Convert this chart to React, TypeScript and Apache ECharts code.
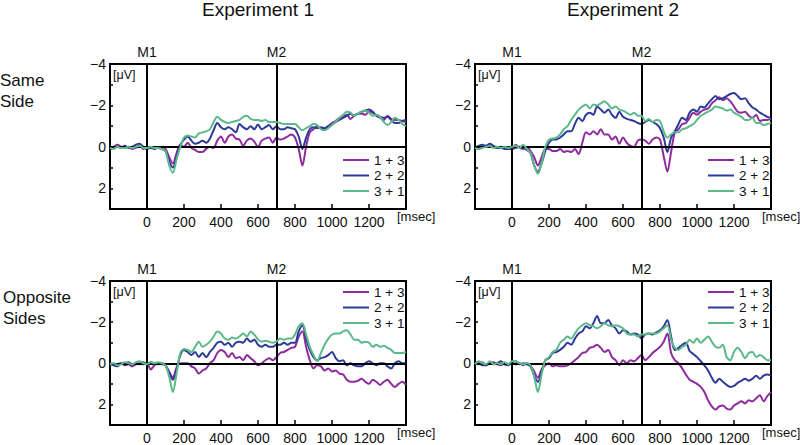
import React, { useEffect, useRef } from "react";
import * as echarts from "echarts";

// time axis in msec (sample points)
const times = [
  -200, -180, -160, -140, -120, -100, -80, -60, -40, -20,
  0, 20, 40, 60, 80, 100, 120, 140, 160, 180,
  200, 220, 240, 260, 280, 300, 320, 340, 360, 380,
  400, 420, 440, 460, 480, 500, 520, 540, 560, 580,
  600, 620, 640, 660, 680, 700, 720, 740, 760, 780,
  800, 820, 840, 860, 880, 900, 920, 940, 960, 980,
  1000, 1020, 1040, 1060, 1080, 1100, 1120, 1140, 1160, 1180,
  1200, 1220, 1240, 1260, 1280, 1300, 1320, 1340, 1360, 1380,
  1400,
];

const conditions = ["1 + 3", "2 + 2", "3 + 1"];
const experiments = ["Experiment 1", "Experiment 2"];
const rowLabels = ["Same\nSide", "Opposite\nSides"];
const markerTimes = [0, 700];
const markerLabels = ["M1", "M2"];

// Experiment 1, Same Side
const e1SamePurple = [
  0.1, 0.0, -0.1, 0.0, 0.05, 0.0, 0.1, 0.05, -0.05, 0.1,
  0.05, 0.05, 0.0, 0.05, 0.0, 0.1, 0.5, 0.8, 0.3, -0.1,
  0.0, -0.2, 0.05, 0.15, 0.25, 0.25, 0.1, 0.0, 0.05, -0.3,
  -0.5, -0.2, -0.5, -0.6, -0.4, -0.35, -0.05, -0.3, -0.4, -0.25,
  0.0, -0.3, -0.4, -0.45, -0.2, -0.45, -0.35, -0.4, -0.5, -0.6,
  -0.45, 0.1, 0.9, 0.0, -0.7, -0.85, -1.0, -0.9, -0.85, -1.0,
  -1.15, -1.25, -1.4, -1.45, -1.55, -1.35, -1.5, -1.6, -1.6, -1.55,
  -1.7, -1.65, -1.5, -1.4, -1.3, -1.5, -1.35, -1.3, -1.3, -1.25,
  -1.2,
];
const e1SameBlue = [
  0.1, 0.05, 0.0, 0.05, -0.05, 0.05, 0.0, -0.1, -0.15, 0.0,
  0.1, 0.05, 0.1, 0.05, 0.1, 0.2, 0.7, 1.0, 0.5, -0.1,
  -0.35, -0.5, -0.3, -0.15, -0.2, -0.3, -0.2, -0.4, -0.8, -1.15,
  -0.95, -0.85, -0.95, -0.85, -0.7, -1.1, -0.95, -0.85, -1.0, -0.85,
  -1.08, -0.85, -0.95, -1.05, -0.85, -1.0, -0.85, -0.85, -0.95, -0.9,
  -0.85, -0.5, 0.1, -0.45, -0.85, -0.95, -0.9, -0.95, -0.9, -1.0,
  -1.1, -1.2, -1.3, -1.4, -1.5, -1.6, -1.5, -1.6, -1.7, -1.75,
  -1.8, -1.7, -1.5, -1.45, -1.4, -1.45, -1.3, -1.15, -1.15, -1.25,
  -1.3,
];
const e1SameGreen = [
  0.05, 0.1, 0.0, 0.05, 0.05, 0.0, 0.05, 0.0, -0.05, 0.05,
  0.05, 0.0, 0.05, 0.05, 0.1, 0.2, 0.9, 1.25, 0.6, 0.0,
  -0.45, -0.55, -0.5, -0.45, -0.65, -0.7, -0.75, -0.85, -1.2, -1.45,
  -1.3, -1.2, -1.15, -1.2, -1.25, -1.3, -1.45, -1.5, -1.35, -1.3,
  -1.3, -1.25, -1.3, -1.2, -1.2, -1.2, -1.15, -1.1, -1.1, -1.1,
  -1.1, -0.95, -0.8, -0.9, -1.0, -1.1, -1.05, -0.85, -0.8, -0.9,
  -1.05, -1.2, -1.4, -1.55, -1.7, -1.65, -1.5, -1.6, -1.7, -1.75,
  -1.65, -1.5, -1.55, -1.45, -1.2, -1.05, -1.2, -1.4, -1.3, -1.1,
  -1.0,
];

// Experiment 2, Same Side
const e2SamePurple = [
  0.05, 0.1, 0.0, -0.05, -0.1, 0.0, 0.05, 0.0, 0.05, 0.05,
  0.1, -0.1, 0.05, 0.1, 0.0, 0.2, 0.5, 0.9, 0.5, 0.1,
  0.1, 0.2, 0.2, 0.1, 0.25, 0.2, 0.25, 0.1, 0.35, -0.2,
  -0.7, -0.6, -0.75, -0.6, -0.85, -0.6, -0.6, -0.35, -0.5, -0.15,
  -0.45, -0.2, -0.05, 0.0, -0.3, -0.35, -0.3, -0.15, -0.35, -0.45,
  -0.35, 0.45, 1.2, 0.25, -0.7, -0.85, -1.1, -1.15, -1.4, -1.65,
  -1.55, -1.7, -1.8, -1.85, -2.1, -2.25, -2.4, -2.25, -2.35, -2.2,
  -1.95, -1.7, -1.65, -1.7, -1.5, -1.4, -1.55, -1.25, -1.3, -1.3,
  -1.35,
];
const e2SameBlue = [
  0.05, -0.05, -0.1, -0.05, -0.15, -0.05, 0.05, 0.05, 0.1, 0.1,
  0.1, 0.05, 0.0, 0.05, 0.15, 0.3, 0.9, 1.2, 0.8, 0.2,
  -0.2, -0.35, -0.35, -0.45, -0.6, -0.75, -0.75, -1.1, -1.4, -1.25,
  -1.55, -1.65, -1.55, -1.95, -1.8, -1.65, -1.8, -1.55, -1.4, -1.7,
  -1.45, -1.35, -1.3, -1.25, -1.15, -1.1, -1.2, -1.3, -1.2, -1.1,
  -0.9, -0.45, 0.25, -0.45, -0.75, -1.1, -1.4, -1.3, -1.65, -1.8,
  -1.7, -1.95, -1.9, -2.1, -2.3, -2.45, -2.3, -2.35, -2.45, -2.55,
  -2.6, -2.45, -2.3, -2.35, -2.1, -1.9, -1.8, -1.65, -1.55, -1.45,
  -1.4,
];
const e2SameGreen = [
  0.05, 0.1, 0.05, 0.0, -0.05, 0.05, 0.0, 0.05, 0.0, 0.05,
  0.0, -0.05, 0.05, -0.1, 0.1, 0.3, 0.9, 1.3, 0.8, 0.0,
  -0.35, -0.4, -0.45, -0.6, -0.85, -1.0, -1.3, -1.55, -1.8, -1.95,
  -2.05, -1.85, -2.05, -2.0, -2.1, -2.2, -2.05, -1.85, -1.95, -1.8,
  -1.75, -1.65, -1.55, -1.65, -1.5, -1.5, -1.25, -1.35, -1.2, -1.3,
  -1.25, -0.75, -0.45, -0.6, -0.7, -0.7, -0.85, -0.9, -1.0, -1.1,
  -1.3, -1.5, -1.6, -1.7, -1.8, -1.95, -1.9, -1.85, -1.75, -1.8,
  -1.65, -1.55, -1.45, -1.3, -1.3, -1.4, -1.15, -1.15, -1.05, -1.1,
  -1.15,
];

// Experiment 1, Opposite Sides
const e1OppPurple = [
  0.0, 0.05, 0.05, 0.0, 0.1, 0.05, 0.15, 0.05, 0.0, 0.05,
  0.0, 0.3, 0.1, 0.0, 0.05, 0.1, 0.4, 0.7, 0.2, 0.0,
  0.0, 0.0, 0.15, 0.25, 0.5, 0.35, 0.25, 0.0, -0.15, -0.5,
  -0.65, -0.55, -0.3, -0.5, -0.25, -0.3, -0.15, -0.4, -0.25, -0.1,
  0.1, 0.0, -0.15, -0.25, -0.15, -0.3, -0.5, -0.55, -0.65, -0.75,
  -0.8, -1.3, -1.55, -0.8, -0.15, 0.25, 0.1, 0.15, 0.35, 0.25,
  0.4, 0.35, 0.5, 0.55, 0.8, 0.9, 0.9, 0.85, 0.75, 0.9,
  1.0, 0.8, 0.9, 1.05, 0.9, 0.8, 1.0, 1.15, 1.0, 0.9,
  1.05,
];
const e1OppBlue = [
  0.05, 0.1, 0.15, 0.0, 0.0, -0.05, 0.05, 0.0, 0.05, -0.05,
  0.05, -0.05, 0.0, 0.05, 0.0, 0.1, 0.5, 0.8, 0.3, -0.4,
  -0.65, -0.55, -0.4, -0.55, -0.3, -0.5, -0.3, -0.55, -0.75, -1.0,
  -1.05, -0.9, -1.0, -0.8, -1.0, -1.05, -1.0, -1.2, -1.05, -1.15,
  -0.9, -0.8, -0.9, -0.8, -0.8, -0.9, -0.9, -1.0, -0.9, -1.0,
  -1.0, -1.55, -1.85, -1.2, -0.65, -0.3, -0.15, -0.25, -0.3, -0.4,
  -0.55, -0.25, -0.1, -0.15, 0.1, 0.0, 0.1, 0.15, 0.15, 0.0,
  -0.1, 0.0, 0.1, 0.0, 0.0, 0.15, 0.25, 0.0, -0.1, 0.0,
  0.0,
];
const e1OppGreen = [
  0.05, 0.0, 0.1, 0.05, -0.05, 0.0, 0.05, -0.05, -0.1, 0.0,
  0.05, -0.05, 0.0, -0.05, 0.0, 0.1, 0.65, 1.4, 0.5, -0.5,
  -0.7, -0.65, -0.55, -0.8, -1.05, -0.8, -0.9, -1.05, -1.3, -1.55,
  -1.45, -1.2, -1.15, -1.25, -1.2, -1.3, -1.45, -1.3, -1.55, -1.4,
  -1.15, -1.05, -1.1, -1.05, -1.0, -1.05, -1.2, -1.15, -1.2, -1.2,
  -1.4, -1.8, -1.95, -1.4, -0.8, -0.4, -0.1, -0.5, -0.9, -1.2,
  -1.4, -1.45, -1.45, -1.55, -1.6, -1.4, -1.15, -1.15, -1.0, -1.05,
  -1.0, -0.8, -0.9, -0.8, -0.85, -0.75, -0.65, -0.5, -0.5, -0.5,
  -0.55,
];

// Experiment 2, Opposite Sides
const e2OppPurple = [
  0.0, 0.05, -0.05, 0.1, 0.0, -0.05, 0.05, 0.1, 0.0, 0.05,
  0.0, 0.05, 0.0, 0.1, 0.0, 0.1, 0.4, 0.7, 0.3, 0.1,
  0.0, 0.15, 0.1, 0.15, 0.15, 0.1, 0.0, -0.15, -0.3, -0.5,
  -0.55, -0.75, -0.8, -0.9, -0.75, -0.55, -0.65, -0.3, -0.15, 0.1,
  -0.15, 0.0, -0.15, -0.1, -0.25, -0.4, -0.15, -0.3, -0.5, -0.65,
  -0.8, -1.05, -1.45, -0.5, -0.15, 0.0, 0.25, 0.55, 0.8, 0.9,
  1.0, 1.15, 1.4, 1.8, 2.1, 2.25, 2.1, 2.05, 2.2, 2.25,
  2.05, 1.95, 1.85, 1.95, 1.8, 1.85, 1.7, 1.55, 1.85, 1.6,
  1.4,
];
const e2OppBlue = [
  0.05, -0.05, 0.1, 0.1, -0.05, 0.05, 0.0, -0.1, 0.05, 0.1,
  -0.05, -0.1, 0.05, 0.0, 0.05, 0.15, 0.6, 0.9, 0.4, -0.15,
  -0.25, -0.5, -0.55, -0.65, -0.8, -1.0, -0.9, -1.2, -1.45, -1.55,
  -1.8, -1.7, -1.95, -2.3, -1.95, -1.95, -2.1, -1.85, -1.7, -1.45,
  -1.6, -1.55, -1.4, -1.45, -1.4, -1.2, -1.4, -1.45, -1.4, -1.5,
  -1.6, -1.8, -2.1, -1.3, -0.65, -0.75, -0.9, -1.0, -0.6, -0.45,
  -0.3, -0.1, 0.1, 0.35, 0.7, 0.95, 0.75, 0.9, 1.05, 1.15,
  1.1, 0.95, 0.85, 0.75, 0.85, 0.75, 0.6, 0.75, 0.6, 0.55,
  0.6,
];
const e2OppGreen = [
  0.05, -0.1, 0.0, 0.05, -0.1, 0.05, 0.0, 0.05, -0.05, 0.05,
  -0.1, -0.1, 0.0, 0.05, 0.0, 0.1, 0.65, 1.4, 0.55, -0.15,
  -0.3, -0.55, -0.65, -1.0, -1.15, -1.3, -1.2, -1.45, -1.7, -1.85,
  -1.95, -1.85, -1.8, -1.7, -1.8, -1.95, -1.85, -1.8, -1.85, -1.8,
  -1.7, -1.45, -1.4, -1.4, -1.3, -1.4, -1.4, -1.45, -1.45, -1.45,
  -1.55, -1.7, -1.85, -1.15, -0.75, -0.65, -0.8, -0.9, -1.15, -1.0,
  -1.2, -1.0, -1.15, -1.3, -1.05, -0.8, -0.75, -0.9, -0.3, -0.15,
  -0.55, -0.75, -0.55, -0.25, -0.5, -0.55, -0.3, -0.4, -0.3, -0.15,
  -0.15,
];

const panelValues = [
  [e1SamePurple, e1SameBlue, e1SameGreen],
  [e2SamePurple, e2SameBlue, e2SameGreen],
  [e1OppPurple, e1OppBlue, e1OppGreen],
  [e2OppPurple, e2OppBlue, e2OppGreen],
];

// layout / style
const COLORS = ["#8E2C9D", "#2D3A98", "#5CB98A"];
const FONT = "'Liberation Sans', Arial, Helvetica, sans-serif";
const TEXT = "#111";
const GRID_W = 296;
const GRID_H = 145;
const gridPos = [
  { left: 110, top: 64 },
  { left: 475, top: 64 },
  { left: 110, top: 281 },
  { left: 475, top: 281 },
];
const legendBottomRow = [false, false, true, true];

const fmtY = (v: number) => {
  if (v % 2 !== 0 || v > 2) return "";
  return v < 0 ? "\u2212" + Math.abs(v) : String(v);
};
const fmtX = (v: number) => (v < 0 || v > 1200 ? "" : String(v));

export default function App() {
  const ref = useRef<HTMLDivElement>(null);
  useEffect(() => {
    if (!ref.current) return;
    const chart = echarts.init(ref.current, undefined, { renderer: "svg" });

    const grids = gridPos.map((g) => ({
      left: g.left,
      top: g.top,
      width: GRID_W,
      height: GRID_H,
      show: true,
      borderColor: "#000",
      borderWidth: 2,
      backgroundColor: "transparent",
    }));

    const xAxes = gridPos.map((_, i) => ({
      type: "value",
      gridIndex: i,
      min: -200,
      max: 1400,
      interval: 200,
      axisLine: { show: true, onZero: false, lineStyle: { color: "#000", width: 2 } },
      axisTick: { show: true, inside: true, length: 5, lineStyle: { color: "#000", width: 1.5 } },
      axisLabel: { formatter: fmtX, fontSize: 14, color: TEXT, margin: 6, fontFamily: FONT },
      splitLine: { show: false },
    }));

    const yAxes = gridPos.map((_, i) => ({
      type: "value",
      gridIndex: i,
      inverse: true,
      min: -4,
      max: 3,
      interval: 1,
      axisLine: { show: true, onZero: false, lineStyle: { color: "#000", width: 2 } },
      axisTick: { show: true, inside: true, length: 3, lineStyle: { color: "#000", width: 1.5 } },
      axisLabel: { formatter: fmtY, fontSize: 14, color: TEXT, margin: 4, fontFamily: FONT },
      splitLine: { show: false },
    }));

    const series: any[] = [];
    panelValues.forEach((vals, p) => {
      vals.forEach((arr, c) => {
        const s: any = {
          type: "line",
          name: conditions[c],
          xAxisIndex: p,
          yAxisIndex: p,
          data: times.map((t, k) => [t, arr[k]]),
          symbol: "none",
          showSymbol: false,
          smooth: 0.3,
          lineStyle: { color: COLORS[c], width: 2 },
          itemStyle: { color: COLORS[c] },
          z: 3 + c,
        };
        if (c === 0) {
          s.markLine = {
            silent: true,
            symbol: ["none", "none"],
            label: { show: false },
            lineStyle: { color: "#000", width: 2, type: "solid" },
            emphasis: { disabled: true },
            data: [
              ...markerTimes.map((t) => ({ xAxis: t })),
              { yAxis: 0 },
            ],
          };
        }
        series.push(s);
      });
    });

    const legends = gridPos.map((g, i) => ({
      show: true,
      data: conditions,
      orient: "vertical",
      left: g.left + 233,
      top: legendBottomRow[i] ? g.top + 4 : g.top + 89,
      padding: 0,
      itemGap: 1.5,
      itemWidth: 26,
      itemHeight: 2,
      icon: "rect",
      selectedMode: false,
      textStyle: { fontSize: 13.5, color: TEXT, fontFamily: FONT, lineHeight: 14 },
    }));

    chart.setOption({
      animation: false,
      backgroundColor: "#fff",
      textStyle: { fontFamily: FONT },
      grid: grids,
      xAxis: xAxes,
      yAxis: yAxes,
      legend: legends,
      series,
    });

    // annotations positioned from the axes
    const graphics: any[] = [];
    gridPos.forEach((g, i) => {
      const topLeft = chart.convertToPixel({ gridIndex: i } as any, [-200, -4]) as number[];
      const botRight = chart.convertToPixel({ gridIndex: i } as any, [1400, 3]) as number[];
      markerTimes.forEach((t, m) => {
        const px = chart.convertToPixel({ gridIndex: i } as any, [t, -4]) as number[];
        graphics.push({
          type: "text",
          x: px[0],
          y: topLeft[1] - 12,
          style: {
            text: markerLabels[m],
            fontSize: 14,
            fontFamily: FONT,
            fill: TEXT,
            align: "center",
            verticalAlign: "middle",
          },
        });
      });
      graphics.push({
        type: "text",
        x: topLeft[0] + 3,
        y: topLeft[1] + 11,
        style: { text: "[\u03bcV]", fontSize: 12.5, fontFamily: FONT, fill: TEXT, align: "left", verticalAlign: "middle" },
      });
      graphics.push({
        type: "text",
        x: botRight[0] - 9,
        y: botRight[1] + 7,
        style: { text: "[msec]", fontSize: 13, fontFamily: FONT, fill: TEXT, align: "left", verticalAlign: "middle" },
      });
    });
    experiments.forEach((name, e) => {
      const c = chart.convertToPixel({ gridIndex: e } as any, [600, -4]) as number[];
      graphics.push({
        type: "text",
        x: c[0],
        y: 9,
        style: { text: name, fontSize: 19, fontFamily: FONT, fill: TEXT, align: "center", verticalAlign: "middle" },
      });
    });
    rowLabels.forEach((name, r) => {
      const c = chart.convertToPixel({ gridIndex: r * 2 } as any, [-200, -2.5]) as number[];
      graphics.push({
        type: "text",
        x: r === 0 ? 0 : 3,
        y: c[1] - 4,
        style: {
          text: name,
          fontSize: 17,
          lineHeight: 21,
          fontFamily: FONT,
          fill: TEXT,
          align: "left",
          verticalAlign: "middle",
        },
      });
    });
    chart.setOption({ graphic: graphics });

    return () => chart.dispose();
  }, []);

  return (
    <div
      ref={ref}
      style={{ position: "fixed", left: 0, top: 0, width: 800, height: 445, background: "#fff" }}
    />
  );
}
